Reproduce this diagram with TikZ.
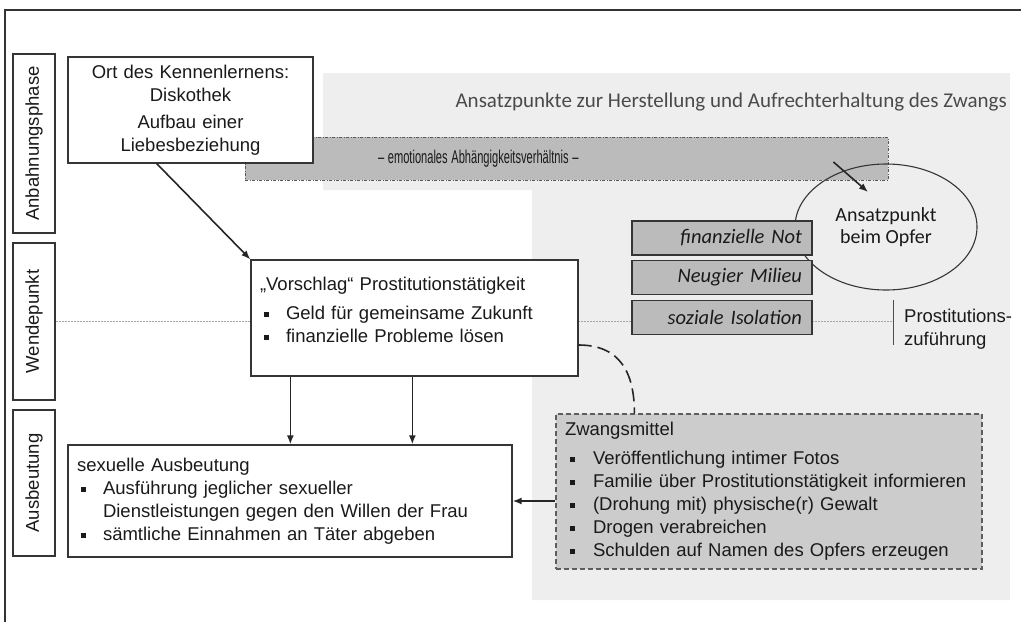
\documentclass[tikz,border=0pt]{standalone}
\usepackage{fontspec}
\setmainfont{Liberation Sans}
\newfontfamily\carlito{Carlito}
\usetikzlibrary{arrows.meta,shapes.geometric,calc}
\newcommand\sqb{\raisebox{0.25ex}{\rule{5pt}{5pt}}}
\newcommand\bl{\makebox[26pt][l]{\hspace*{4pt}\sqb}}
\newcommand\blz{\makebox[28pt][l]{\hspace*{5pt}\sqb}}
\definecolor{panel}{HTML}{EEEEEE}
\definecolor{darkbar}{HTML}{BBBBBB}
\definecolor{zwfill}{HTML}{CCCCCC}
\definecolor{txt}{HTML}{1A1A1A}
\definecolor{edge}{HTML}{353535}
\definecolor{softtxt}{HTML}{4A4A4A}
\begin{document}
\begin{tikzpicture}[x=1pt,y=-1pt,
  mainfont/.style={font=\fontsize{18.5}{23}\selectfont},
  box/.style={draw=edge, line width=1.3pt, fill=white, text=txt, mainfont, inner xsep=9pt, inner ysep=0pt},
  phase/.style={draw=edge, line width=1.3pt, fill=white, text=txt, mainfont, rotate=90, minimum height=42pt, inner sep=0pt},
  arr/.style={draw=black!85, line width=1.6pt, -{Latex[length=9pt,width=7pt]}},
  ital/.style={draw=edge, line width=1.1pt, fill=darkbar, text=txt, font=\carlito\itshape\fontsize{20.5}{24}\selectfont, minimum width=180pt, minimum height=34pt, text width=160pt, align=right, inner xsep=10pt, inner ysep=0pt},
  zwbox/.style={draw=edge!80, dash pattern=on 5pt off 3pt, line width=1.1pt, fill=zwfill, text=txt, font=\fontsize{18.5}{23}\selectfont, inner xsep=9pt, inner ysep=0pt},
  guide/.style={draw=gray!70, line width=0.7pt, dash pattern=on 2pt off 1pt}
]
\useasboundingbox (0,0) rectangle (1021,622);
% background panel
\fill[panel] (323,73) -- (1010,73) -- (1010,600) -- (532,600) -- (532,190) -- (323,190) -- cycle;
% frame
\draw[line width=1.4pt, black!80] (5,622) -- (5,10) -- (1021,10);

% phase labels
\node[phase, minimum width=179pt] (ap) at (34,143.5) {Anbahnungsphase};
\node[phase, minimum width=157pt] (wp) at (34,321.5) {Wendepunkt};
\node[phase, minimum width=146pt] (ab) at (34,483) {Ausbeutung};

% separator guide
\coordinate (sepTop) at (893,300);
\coordinate (sepBot) at (893,345);
\draw[guide] (wp.south) -- (wp.south -| sepTop);
\draw[draw=gray!60!black, line width=0.8pt] (sepTop) -- (sepBot);
\node[anchor=west, align=left, text=txt, mainfont, inner sep=0pt] (pz) at (904,329) {Prostitutions-\\zuführung};

% heading in panel
\node[anchor=east, text=softtxt, font=\carlito\fontsize{21}{24}\selectfont, inner sep=0pt] (head) at (1007,102) {Ansatzpunkte zur Herstellung und Aufrechterhaltung des Zwangs};

% emotional bar
\node[draw=gray!70!black, dash pattern=on 3pt off 1.5pt on 1pt off 1.5pt, line width=0.9pt, fill=darkbar, minimum width=643pt, minimum height=43pt, text width=625pt, inner xsep=9pt, inner ysep=0pt, align=left, text=txt, font=\fontsize{18.5}{20}\selectfont] (emo) at (566.5,158.5) {\hspace*{124pt}\scalebox{0.6}[1]{– emotionales Abhängigkeitsverhältnis –}};

% ellipse
\node[ellipse, draw=edge, line width=1.1pt, minimum width=182pt, minimum height=126pt, inner sep=0pt, align=center, text=txt, font=\carlito\fontsize{20}{22}\selectfont] (el) at (886,227) {Ansatzpunkt\\beim Opfer};
\coordinate (emoArr) at ([xshift=-55pt,yshift=-3.5pt]emo.east);
\coordinate (elArr) at ([xshift=-18pt,yshift=35pt]el.center);
\draw[arr] (emoArr) -- (elArr);

% italic boxes
\node[ital] (fn) at (722,238) {finanzielle Not};
\node[ital] (nm) at (722,277.5) {Neugier Milieu};
\node[ital] (si) at (722,317.5) {soziale Isolation};

% main boxes
\node[box, align=center, text width=227pt, minimum width=245pt, minimum height=106pt] (b1) at (190.5,110) {Ort des Kennenlernens:\\ Diskothek\\[4pt] Aufbau einer\\ Liebesbeziehung};
\node[box, align=left, text width=309pt, minimum width=327pt, minimum height=116pt] (b2) at (414.5,318) {„Vorschlag“ Prostitutionstätigkeit\\[6pt] \bl Geld für gemeinsame Zukunft\\ \bl finanzielle Probleme lösen\rule[-17pt]{0pt}{17pt}};
\node[box, align=left, text width=426pt, minimum width=444pt, minimum height=112pt] (b3) at (290,501) {sexuelle Ausbeutung\\ \bl Ausführung jeglicher sexueller\\ \hspace*{26pt}Dienstleistungen gegen den Willen der Frau\\ \bl sämtliche Einnahmen an Täter abgeben};
\node[zwbox, align=left, text width=408pt, minimum width=426pt, minimum height=155pt] (zw) at (769,491.5) {Zwangsmittel\\[6pt] \blz Veröffentlichung intimer Fotos\\ \blz Familie über Prostitutionstätigkeit informieren\\ \blz (Drohung mit) physische(r) Gewalt\\ \blz Drogen verabreichen\\ \blz Schulden auf Namen des Opfers erzeugen};

% connectors
\draw[arr] ($(b1.south west)!0.363!(b1.south east)$) -- (b2.north west);
\draw[arr] ([xshift=40pt]b2.south west) -- ([xshift=40pt]b2.south west |- b3.north);
\draw[arr] ([xshift=162pt]b2.south west) -- ([xshift=162pt]b2.south west |- b3.north);
\draw[arr] (b3.east -| zw.west) -- (b3.east);
\draw[draw=black!85, line width=1.6pt, dash pattern=on 13pt off 6pt] ([yshift=-27pt]b2.east) .. controls ([xshift=42pt,yshift=-27pt]b2.east) and ([xshift=79pt,yshift=40pt]zw.north west) .. ([xshift=79pt]zw.north west);
\end{tikzpicture}
\end{document}
